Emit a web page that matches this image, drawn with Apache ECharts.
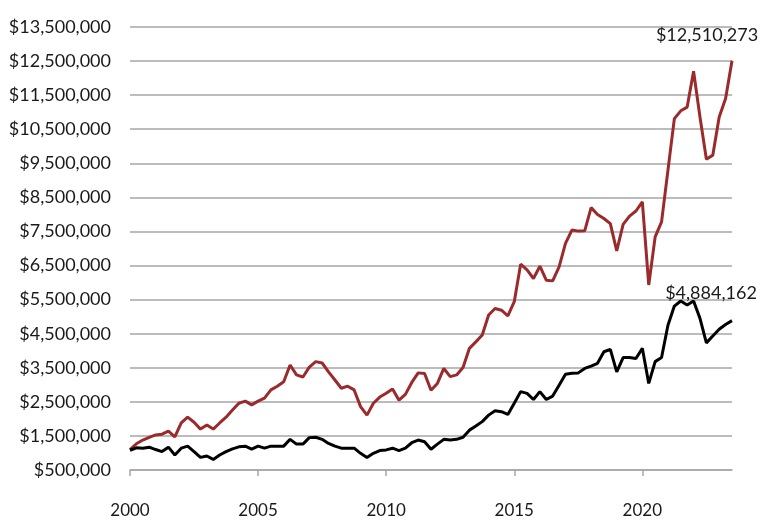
<!DOCTYPE html>
<html>
<head>
<meta charset="utf-8">
<script src="https://cdn.jsdelivr.net/npm/echarts@6/dist/echarts.min.js"></script>
<style>
html,body{margin:0;padding:0;background:#fff;}
#chart{width:760px;height:521px;}
</style>
</head>
<body>
<div id="chart"></div>
<script>
// Quarterly observations, 2000 Q1 .. 2023 Q3 (95 points), values in $ millions
const startYear = 2000;
const tickLabels = ['2000', '2005', '2010', '2015', '2020'];

const redSeries = [
  1.10, 1.27, 1.38, 1.46, 1.53, 1.55, 1.64, 1.47, 1.88, 2.05,
  1.90, 1.70, 1.82, 1.70, 1.88, 2.05, 2.26, 2.46, 2.52, 2.41,
  2.52, 2.61, 2.85, 2.96, 3.09, 3.58, 3.29, 3.23, 3.52, 3.68,
  3.64, 3.38, 3.14, 2.90, 2.96, 2.85, 2.36, 2.11, 2.46, 2.64,
  2.75, 2.88, 2.55, 2.72, 3.07, 3.35, 3.33, 2.84, 3.04, 3.48,
  3.24, 3.29, 3.51, 4.07, 4.26, 4.46, 5.05, 5.24, 5.19, 5.02,
  5.44, 6.54, 6.37, 6.12, 6.48, 6.07, 6.05, 6.46, 7.15, 7.54,
  7.51, 7.52, 8.20, 8.00, 7.88, 7.73, 6.93, 7.71, 7.95, 8.10,
  8.37, 5.93, 7.34, 7.78, 9.30, 10.81, 11.04, 11.15, 12.20, 10.86,
  9.62, 9.74, 10.86, 11.40, 12.510273
];

const blackSeries = [
  1.08, 1.15, 1.14, 1.17, 1.10, 1.04, 1.17, 0.94, 1.14, 1.20,
  1.04, 0.87, 0.91, 0.81, 0.94, 1.04, 1.12, 1.18, 1.20, 1.11,
  1.20, 1.14, 1.20, 1.20, 1.20, 1.40, 1.26, 1.26, 1.45, 1.46,
  1.40, 1.28, 1.20, 1.14, 1.14, 1.14, 0.99, 0.87, 0.99, 1.07,
  1.09, 1.14, 1.07, 1.14, 1.30, 1.38, 1.33, 1.11, 1.26, 1.40,
  1.38, 1.40, 1.46, 1.67, 1.79, 1.92, 2.11, 2.24, 2.21, 2.13,
  2.46, 2.80, 2.75, 2.57, 2.80, 2.57, 2.67, 2.99, 3.31, 3.34,
  3.35, 3.48, 3.55, 3.63, 3.97, 4.04, 3.38, 3.80, 3.80, 3.77,
  4.07, 3.04, 3.68, 3.80, 4.75, 5.31, 5.46, 5.34, 5.46, 4.95,
  4.23, 4.43, 4.63, 4.77, 4.884162
];

const categories = redSeries.map((_, k) => (startYear + Math.floor(k / 4)) + ' Q' + (k % 4 + 1));

const fmtMoney = v => '$' + Math.round(v).toLocaleString('en-US');
const FONT = 'Lato';

function buildData(arr, labelOpts) {
  return arr.map((v, i) => {
    const val = Math.round(v * 1e6);
    if (i === arr.length - 1) {
      return { value: val, label: Object.assign({ show: true, formatter: p => fmtMoney(p.value) }, labelOpts) };
    }
    return val;
  });
}

const chart = echarts.init(document.getElementById('chart'));
chart.setOption({
  animation: false,
  grid: { left: 130, right: 28, top: 27, bottom: 51, containLabel: false },
  xAxis: {
    type: 'category',
    data: categories,
    boundaryGap: false,
    axisLine: { lineStyle: { color: '#a6a6a6', width: 1.5 } },
    axisTick: { show: true, interval: i => i % 20 === 0, length: 6, lineStyle: { color: '#a6a6a6', width: 1.5 } },
    axisLabel: {
      interval: i => i % 20 === 0,
      formatter: (v, i) => tickLabels[i / 20] || '',
      margin: 32, fontSize: 17, color: '#1a1a1a', fontFamily: FONT
    },
    splitLine: { show: false }
  },
  yAxis: {
    type: 'value',
    min: 500000, max: 13500000, interval: 1000000,
    axisLine: { show: false },
    axisTick: { show: false },
    axisLabel: { formatter: fmtMoney, fontSize: 18, color: '#1a1a1a', fontFamily: FONT, margin: 19 },
    splitLine: { lineStyle: { color: '#a6a6a6', width: 1.5 } }
  },
  series: [
    {
      type: 'line', name: 'Red', symbol: 'circle', symbolSize: 0, showSymbol: true, showAllSymbol: true,
      lineStyle: { color: '#9b2a2c', width: 3 },
      itemStyle: { color: '#9b2a2c' },
      data: buildData(redSeries, { position: 'top', offset: [-25, -12], fontSize: 18, color: '#1a1a1a', fontFamily: FONT })
    },
    {
      type: 'line', name: 'Black', symbol: 'circle', symbolSize: 0, showSymbol: true, showAllSymbol: true,
      lineStyle: { color: '#000000', width: 3 },
      itemStyle: { color: '#000000' },
      data: buildData(blackSeries, { position: 'top', offset: [-21, -13], fontSize: 18, color: '#1a1a1a', fontFamily: FONT })
    }
  ]
});
</script>
</body>
</html>
